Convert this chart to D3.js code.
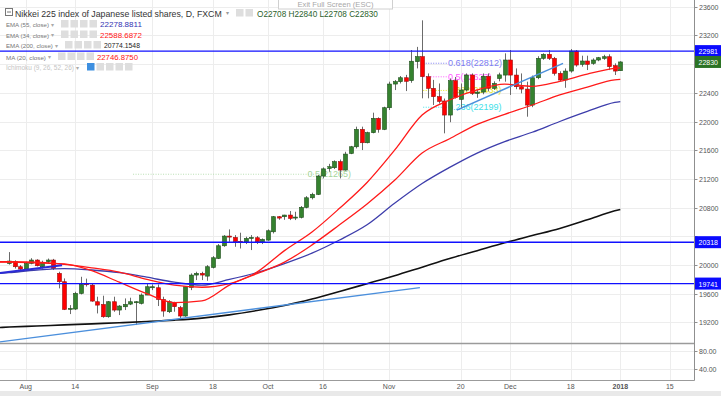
<!DOCTYPE html>
<html>
<head>
<meta charset="utf-8">
<script src="https://cdnjs.cloudflare.com/ajax/libs/d3/7.8.5/d3.min.js"></script>
<style>
    html, body { margin: 0; padding: 0; background: #fff; }
    svg { display: block; font-family: "Liberation Sans Narrow", "Liberation Sans", Arial, sans-serif; }
</style>
</head>
<body>
<svg id="chart" width="721" height="396"></svg>
<script>
// - - - - - - - - - -
// data
// - - - - - - - - - -
const firstDay = '2017-07-27';
const lastDay = '2018-01-20';
const holidays = ['2017-12-25', '2018-01-01'];

const opens = [20020, 20046, 19976, 19943, 20022, 20069, 19976, 20046, 20069, 19883,
    19767, 19388, 19386, 19604, 19739, 19720, 19488, 19450, 19279, 19488,
    19372, 19418, 19455, 19478, 19465, 19581, 19683, 19683, 19520, 19349,
    19474, 19405, 19289, 19688, 19860, 19883, 19845, 19966, 20092, 20268,
    20403, 20384, 20330, 20324, 20378, 20380, 20324, 20347, 20463, 20673,
    20673, 20696, 20663, 20663, 20803, 20937, 20984, 21240, 21345, 21356,
    21440, 21323, 21555, 21648, 21890, 21704, 21844, 22044, 21890, 22192,
    22522, 22555, 22610, 22570, 22834, 22904, 22625, 22462, 22346, 22286,
    22090, 22569, 22309, 22439, 22648, 22390, 22410, 22630, 22462, 22600,
    22647, 22857, 22647, 22485, 22452, 22229, 22610, 22880, 22936, 22880,
    22671, 22578, 22703, 22982, 22796, 22843, 22810, 22857, 22880, 22903,
    22778, 22708];
const highs = [20180, 20065, 20000, 20046, 20095, 20080, 20060, 20090, 20085, 19906,
    19813, 19441, 19627, 19836, 19810, 19739, 19558, 19572, 19497, 19558,
    19441, 19534, 19544, 19497, 19604, 19744, 19730, 19730, 19558, 19510,
    19488, 19430, 19707, 19883, 19906, 19906, 19999, 20124, 20292, 20417,
    20496, 20417, 20450, 20394, 20417, 20403, 20370, 20496, 20683, 20683,
    20700, 20752, 20742, 20822, 20960, 21007, 21254, 21360, 21410, 21458,
    21470, 21578, 21660, 21928, 21928, 21858, 22123, 22058, 22206, 22555,
    22578, 22634, 22650, 22996, 23040, 23410, 22670, 22580, 22530, 22320,
    22600, 22620, 22530, 22670, 22670, 22440, 22670, 22670, 22560, 22680,
    22950, 22996, 22740, 22670, 22555, 22640, 22910, 22950, 22996, 22900,
    22700, 22740, 23010, 22996, 22917, 22917, 22880, 22900, 22930, 22936,
    22810, 22840];
const lows = [20005, 19950, 19915, 19915, 20010, 19980, 19950, 20020, 19930, 19674,
    19372, 19316, 19372, 19590, 19700, 19488, 19325, 19265, 19265, 19348,
    19302, 19372, 19441, 19163, 19450, 19581, 19650, 19428, 19279, 19330,
    19349, 19242, 19279, 19650, 19790, 19790, 19780, 19952, 20083, 20254,
    20324, 20254, 20230, 20292, 20208, 20292, 20292, 20338, 20440, 20630,
    20630, 20626, 20626, 20649, 20790, 20914, 20975, 21207, 21300, 21337,
    21207, 21316, 21545, 21625, 21602, 21695, 21835, 21844, 21880, 22160,
    22438, 22530, 22424, 22540, 22740, 22323, 22323, 22230, 22250, 21835,
    21990, 22320, 22183, 22420, 22370, 22330, 22380, 22420, 22440, 22560,
    22555, 22370, 22450, 22392, 22067, 22200, 22590, 22860, 22857, 22640,
    22560, 22470, 22680, 22764, 22764, 22717, 22790, 22840, 22860, 22717,
    22648, 22708];
const closes = [20055, 19976, 19943, 20022, 20069, 19990, 20036, 20069, 19953, 19767,
    19381, 19395, 19604, 19730, 19725, 19497, 19441, 19279, 19488, 19372,
    19428, 19450, 19488, 19488, 19581, 19697, 19697, 19520, 19358, 19488,
    19419, 19289, 19697, 19860, 19883, 19860, 19976, 20101, 20268, 20403,
    20390, 20324, 20319, 20370, 20384, 20324, 20357, 20477, 20673, 20654,
    20696, 20649, 20668, 20803, 20937, 20984, 21240, 21340, 21370, 21440,
    21323, 21546, 21648, 21890, 21704, 21844, 22044, 21890, 22192, 22522,
    22555, 22610, 22560, 22840, 22904, 22625, 22462, 22346, 22280, 22090,
    22569, 22337, 22439, 22648, 22392, 22410, 22630, 22462, 22530, 22650,
    22857, 22647, 22485, 22452, 22229, 22610, 22880, 22936, 22880, 22671,
    22578, 22703, 22982, 22787, 22843, 22796, 22857, 22889, 22903, 22764,
    22703, 22830];

// indicator lines at these bar numbers
const lineBars = [-2, 0, 5, 10, 15, 20, 25, 30, 35, 40, 45, 50, 55, 60, 65, 70, 75, 80, 85, 90, 95, 100, 105, 110, 111];
const ema55 = [19880, 19893, 19930, 19950, 19930, 19893, 19830, 19760, 19720, 19800, 19895, 20020, 20165, 20348,
    20560, 20860, 21135, 21360, 21560, 21720, 21850, 22000, 22140, 22265, 22278];
const ema34 = [20045, 20045, 20040, 20010, 19960, 19900, 19800, 19720, 19690, 19740, 19880, 20040, 20280, 20560,
    20850, 21180, 21560, 21760, 21960, 22100, 22230, 22370, 22480, 22580, 22588];
const ema200 = [19128, 19135, 19150, 19165, 19180, 19195, 19212, 19232, 19260, 19305, 19365, 19435, 19525, 19630,
    19740, 19850, 19970, 20090, 20200, 20310, 20410, 20510, 20630, 20755, 20774];
const ma20 = [20040, 20040, 20030, 20015, 19920, 19760, 19600, 19475, 19500, 19720, 19900, 20200, 20460, 20790,
    21150, 21600, 22090, 22300, 22440, 22520, 22490, 22560, 22660, 22740, 22747];

const priceTicks = [23600, 23200, 22800, 22400, 22000, 21600, 21200, 20800, 20400, 20000, 19600, 19200];
const oscTicks = [80, 40];
const timeTickDates = ['2017-08-01', '2017-08-14', '2017-09-01', '2017-09-18', '2017-10-02', '2017-10-16',
    '2017-11-01', '2017-11-20', '2017-12-01', '2017-12-18', '2018-01-02', '2018-01-15'];
const timeTickText = ['Aug', '14', 'Sep', '18', 'Oct', '16', 'Nov', '20', 'Dec', '18', '2018', '15'];

const levelPrices = [22981, 20318, 19741];
const lastPrice = 22830;

const fibRatios = ['0.618', '0.5', '0.382', '0.236'];
const fibPrices = [22812, 22623, 22433, 22199];
const fibColors = ['#7d7df2', '#ff5cff', '#e6e619', '#3fe0e8'];
const oldFibRatio = '0.5';
const oldFibPrice = 21265;

// trend lines: [bar, price, bar, price]
const trendLong = [-2, 18926, 74.6, 19686];
const trendShort = [81.3, 22160, 100.6, 22811];
const trendLeft = [-2, 19885, 9.6, 19996];

// - - - - - - - - - -
// scales
// - - - - - - - - - -
const svg = d3.select('#chart');
const right = 694.5, paneBottom = 343.5, oscBottom = 380.5;

const fmt = d3.utcFormat('%Y-%m-%d');
const days = d3.utcDay.range(new Date(firstDay), new Date(lastDay))
    .filter(d => d.getUTCDay() > 0 && d.getUTCDay() < 6 && !holidays.includes(fmt(d)));
const barOf = {};
days.forEach((d, i) => barOf[fmt(d)] = i);

const x = d3.scaleLinear().domain([0, 111]).range([9.2, 620.3]);
const y = d3.scaleLinear().domain([19200, 23600]).range([322.4, 6.7]);
const yOsc = d3.scaleLinear().domain([40, 80]).range([369.3, 351]);

const bars = closes.map((c, i) => ({ i: i, o: opens[i], h: highs[i], l: lows[i], c: c }));

// shrink or grow a text's font so its own width is w
function fit(sel, w) {
    let fs = +sel.attr('font-size');
    let now = sel.node().getComputedTextLength();
    if (now > 0) sel.attr('font-size', (fs * w / now).toFixed(2));
    return +sel.attr('font-size');
}

// - - - - - - - - - -
// grid
// - - - - - - - - - -
const grid = svg.append('g').attr('stroke', '#ededed').attr('stroke-width', 1);
priceTicks.forEach(p => {
    grid.append('line').attr('x1', 0).attr('x2', right)
        .attr('y1', Math.round(y(p)) + 0.5).attr('y2', Math.round(y(p)) + 0.5);
});
oscTicks.forEach(p => {
    grid.append('line').attr('x1', 0).attr('x2', right)
        .attr('y1', Math.round(yOsc(p)) + 0.5).attr('y2', Math.round(yOsc(p)) + 0.5);
});
timeTickDates.forEach(d => {
    let xx = Math.round(x(barOf[d])) + 0.5;
    grid.append('line').attr('x1', xx).attr('x2', xx).attr('y1', 0).attr('y2', oscBottom);
});

// clip for the price pane
svg.append('clipPath').attr('id', 'pane')
    .append('rect').attr('x', 0).attr('y', 0).attr('width', right).attr('height', paneBottom);
const pane = svg.append('g').attr('clip-path', 'url(#pane)');

// - - - - - - - - - -
// fibonacci drawings (under the candles)
// - - - - - - - - - -
fibPrices.forEach((p, k) => {
    pane.append('line').attr('x1', x(75.2)).attr('x2', x(79.5))
        .attr('y1', y(p)).attr('y2', y(p))
        .attr('stroke', fibColors[k]).attr('stroke-dasharray', '1,1.5');
    let t = pane.append('text').attr('x', x(79.7)).attr('y', y(p) + 3)
        .attr('fill', fibColors[k]).attr('font-size', 9)
        .text(fibRatios[k] + '(' + fibPrices[k] + ')');
    if (k === 0) fit(t, 54);
});
pane.append('line').attr('x1', x(22.5)).attr('x2', x(56))
    .attr('y1', y(oldFibPrice)).attr('y2', y(oldFibPrice))
    .attr('stroke', '#b9dfb2').attr('stroke-dasharray', '1,1.5');
pane.append('text').attr('x', x(54.2)).attr('y', y(oldFibPrice) + 3)
    .attr('fill', '#a6d59c').attr('font-size', 9)
    .text(oldFibRatio + '(' + oldFibPrice + ')');

// - - - - - - - - - -
// candles
// - - - - - - - - - -
const candles = pane.append('g');
candles.selectAll('line').data(bars).join('line')
    .attr('x1', d => Math.round(x(d.i)) + 0.5).attr('x2', d => Math.round(x(d.i)) + 0.5)
    .attr('y1', d => y(d.h)).attr('y2', d => y(d.l))
    .attr('stroke', '#6b6b6b').attr('stroke-width', 1);
candles.selectAll('rect').data(bars).join('rect')
    .attr('x', d => Math.round(x(d.i)) - 1.5)
    .attr('width', 4)
    .attr('y', d => y(Math.max(d.o, d.c)))
    .attr('height', d => Math.max(1, Math.abs(y(d.o) - y(d.c))))
    .attr('fill', d => d.c >= d.o ? '#35822f' : '#ff0000')
    .attr('stroke', d => d.c >= d.o ? '#1f4d1c' : '#9a1010')
    .attr('stroke-width', 0.6);

// - - - - - - - - - -
// moving averages
// - - - - - - - - - -
const lineGen = d3.line().x(d => x(d[0])).y(d => y(d[1])).curve(d3.curveMonotoneX);
function drawLine(values, color, width) {
    pane.append('path').datum(lineBars.map((b, k) => [b, values[k]]))
        .attr('d', lineGen).attr('fill', 'none')
        .attr('stroke', color).attr('stroke-width', width);
}
drawLine(ema200, '#111111', 1.6);
drawLine(ema55, '#3d3dab', 1.3);
drawLine(ema34, '#ff1a1a', 1.3);
drawLine(ma20, '#ff1a1a', 1.3);

// - - - - - - - - - -
// trend lines and levels
// - - - - - - - - - -
function trend(t, color, width) {
    pane.append('line').attr('x1', x(t[0])).attr('y1', y(t[1]))
        .attr('x2', x(t[2])).attr('y2', y(t[3]))
        .attr('stroke', color).attr('stroke-width', width);
}
trend(trendLong, '#4b8fdc', 1.3);
trend(trendShort, '#4b8fdc', 1.4);
trend(trendLeft, '#2a2ad6', 2);

levelPrices.forEach(p => {
    pane.append('line').attr('x1', 0).attr('x2', right)
        .attr('y1', y(p)).attr('y2', y(p))
        .attr('stroke', '#1010ff').attr('stroke-width', 1.4);
});

// - - - - - - - - - -
// pane borders and axes
// - - - - - - - - - -
svg.append('line').attr('x1', 0).attr('x2', right).attr('y1', paneBottom).attr('y2', paneBottom)
    .attr('stroke', '#9b9b9b').attr('stroke-width', 1.5);
svg.append('line').attr('x1', 0).attr('x2', right).attr('y1', oscBottom).attr('y2', oscBottom)
    .attr('stroke', '#9b9b9b');
svg.append('line').attr('x1', right).attr('x2', right).attr('y1', 0).attr('y2', oscBottom)
    .attr('stroke', '#8f8f8f');

const axis = svg.append('g').attr('fill', '#555');
// one font size for all axis numbers, taken from the width of "23600"
const probe = axis.append('text').attr('font-size', 9).text(priceTicks[0]);
const axisFont = fit(probe, 19.5);
probe.remove();

// a tick label lying under a price label box is not shown
const boxPrices = levelPrices.concat([lastPrice]);
priceTicks.forEach(p => {
    axis.append('line').attr('x1', right).attr('x2', right + 3)
        .attr('y1', Math.round(y(p)) + 0.5).attr('y2', Math.round(y(p)) + 0.5).attr('stroke', '#8f8f8f');
    let hidden = boxPrices.some(b => Math.abs(y(b) - y(p)) < 6);
    if (!hidden) {
        axis.append('text').attr('x', 699).attr('y', y(p) + 3).attr('font-size', axisFont).text(p);
    }
});
oscTicks.forEach(p => {
    axis.append('line').attr('x1', right).attr('x2', right + 3)
        .attr('y1', Math.round(yOsc(p)) + 0.5).attr('y2', Math.round(yOsc(p)) + 0.5).attr('stroke', '#8f8f8f');
    axis.append('text').attr('x', 699).attr('y', yOsc(p) + 3).attr('font-size', axisFont)
        .text(d3.format('.2f')(p));
});
timeTickDates.forEach((d, k) => {
    axis.append('text').attr('x', x(barOf[d])).attr('y', 389).attr('text-anchor', 'middle')
        .attr('font-size', axisFont)
        .attr('font-weight', timeTickText[k] === '2018' ? 'bold' : 'normal')
        .text(timeTickText[k]);
});

// price labels on the axis
function axisLabel(p, color) {
    svg.append('rect').attr('x', 695).attr('y', y(p) - 6).attr('width', 26).attr('height', 12).attr('fill', color);
    svg.append('text').attr('x', 698.5).attr('y', y(p) + 3.2).attr('font-size', axisFont)
        .attr('fill', '#fff').text(p);
}
levelPrices.forEach(p => axisLabel(p, '#0b0bff'));
axisLabel(lastPrice, '#2c7325');

// bottom strip
svg.append('rect').attr('x', 0).attr('y', 391).attr('width', 721).attr('height', 5).attr('fill', '#e9e9e9');

// - - - - - - - - - -
// legend
// - - - - - - - - - -
const legend = svg.append('g');
function row(yy, label, labelLen, labelColor, iconX, nIcons, firstIcon, value, valueColor, valueX, valueLen) {
    let t = legend.append('text').attr('x', 6).attr('y', yy).attr('font-size', 7.5).attr('fill', labelColor)
        .text(label);
    fit(t, labelLen);
    legend.append('text').attr('x', 6 + labelLen + 2).attr('y', yy - 0.5).attr('font-size', 5.5)
        .attr('fill', '#aaa').text('\u25BE');
    for (let k = 0; k < nIcons; k += 1) {
        legend.append('rect').attr('x', iconX + k * 9.5).attr('y', yy - 7).attr('width', 7.5).attr('height', 7.5)
            .attr('fill', k === 0 && firstIcon ? firstIcon : '#dedede');
    }
    if (value) {
        let v = legend.append('text').attr('x', valueX).attr('y', yy).attr('font-size', 8.5)
            .attr('fill', valueColor).text(value);
        fit(v, valueLen);
    }
}
legend.append('rect').attr('x', 5.5).attr('y', 8.5).attr('width', 7).attr('height', 7)
    .attr('fill', 'none').attr('stroke', '#777');
legend.append('line').attr('x1', 7).attr('x2', 11).attr('y1', 12).attr('y2', 12).attr('stroke', '#777');
const title = legend.append('text').attr('x', 15).attr('y', 16.5).attr('font-size', 11).attr('fill', '#333')
    .text('Nikkei 225 index of Japanese listed shares, D, FXCM');
fit(title, 207);
legend.append('text').attr('x', 226).attr('y', 15).attr('font-size', 6).attr('fill', '#999').text('\u25BE');
legend.append('rect').attr('x', 236).attr('y', 9).attr('width', 7.5).attr('height', 7.5).attr('fill', '#dedede');
legend.append('rect').attr('x', 245.5).attr('y', 9).attr('width', 7.5).attr('height', 7.5).attr('fill', '#dedede');

const ohlc = legend.append('text').attr('x', 257).attr('y', 17).attr('font-size', 10).attr('fill', '#2b5f2b');
[['O', opens[111]], ['H', highs[111]], ['L', lows[111]], ['C', closes[111]]].forEach((t, k) => {
    ohlc.append('tspan').text((k ? '  ' : '') + t[0] + t[1]);
});
fit(ohlc, 121);

row(27, 'EMA (55, close)', 43, '#777', 61, 4, null, '22278.8811', '#3434b4', 100, 42);
row(37.5, 'EMA (34, close)', 43, '#777', 61, 4, null, '22588.6872', '#ff1414', 100, 42);
row(48, 'EMA (200, close)', 47, '#777', 65, 4, null, '20774.1548', '#222', 104, 36);
row(59.5, 'MA (20, close)', 40, '#777', 58, 4, null, '22746.8750', '#ff1414', 97, 41);
row(70, 'Ichimoku (9, 26, 52, 26)', 68, '#c4c4c4', 87, 5, '#3d8fe0', '', '', 0, 0);

// exit full screen tip
svg.append('rect').attr('x', 278.5).attr('y', -1).attr('width', 114).attr('height', 10)
    .attr('fill', '#fff').attr('stroke', '#d0d0d0');
const tip = svg.append('text').attr('x', 335.5).attr('y', 6.5).attr('text-anchor', 'middle')
    .attr('font-size', 8).attr('fill', '#a8a8a8').text('Exit Full Screen (ESC)');
fit(tip, 76);
</script>
</body>
</html>
